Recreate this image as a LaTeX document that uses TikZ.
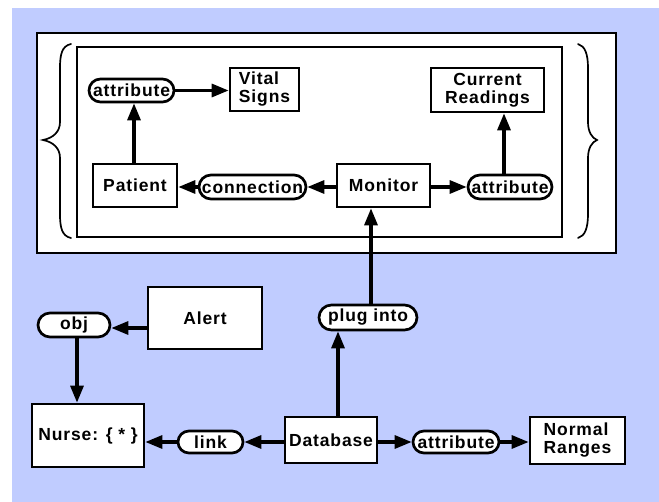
\documentclass[tikz,border=0pt]{standalone}
\usepackage{fontspec}
\setmainfont{Liberation Sans}[BoldFont={* Bold}]
\newfontfamily\lblfont{Liberation Sans Bold}[LetterSpace=5]
\usetikzlibrary{arrows.meta,shapes.misc}
\definecolor{bgblue}{RGB}{192,204,255}
\tikzset{
  lbl/.style={font=\lblfont\fontsize{17.5}{18}\selectfont},
  conceptbox/.style={lbl, draw, fill=white, line width=2.7pt, rectangle, inner sep=1pt, align=center},
  relpill/.style={lbl, draw, fill=white, line width=2.7pt, rounded rectangle, inner sep=0pt},
  container/.style={draw, fill=white, line width=2.7pt, rectangle, inner sep=0pt},
  link arrow/.style={line width=3.2pt, -{Triangle[length=17pt,width=13pt]}},
  bracket/.style={line width=1.7pt, line cap=round}
}
\begin{document}
\begin{tikzpicture}[x=1pt,y=-1pt]
\useasboundingbox (0,0) rectangle (659,502);
\fill[bgblue] (12,8) rectangle (659,502);

% nested context boxes
\node[container, minimum width=579, minimum height=220] (outer) at (326.5,143) {};
\node[container, minimum width=485, minimum height=190] (inner) at (319.5,142) {};

% curly braces around the inner context
\draw[bracket] (71,44) .. controls (62,46) and (60,54) .. (60,68) -- (60,122)
  .. controls (60,132) and (53,138) .. (43,140)
  .. controls (53,142) and (60,148) .. (60,158) -- (60,214)
  .. controls (60,228) and (62,236) .. (71,238);
\draw[bracket] (578,44) .. controls (585,46) and (588,54) .. (588,68) -- (588,122)
  .. controls (588,132) and (592,138) .. (597,140)
  .. controls (592,142) and (588,148) .. (588,158) -- (588,214)
  .. controls (588,228) and (585,236) .. (578,238);

% concepts inside the context
\node[relpill, minimum width=85, minimum height=23] (attrL) at (131.5,90.5) {attribute};
\node[conceptbox, minimum width=69, minimum height=43, align=left] (vital) at (264.5,89.5) {Vital\\Signs};
\node[conceptbox, minimum width=84, minimum height=43] (patient) at (135,185.5) {Patient};
\node[relpill, minimum width=107, minimum height=24] (conn) at (252.5,187) {connection};
\node[conceptbox, minimum width=93, minimum height=43] (monitor) at (383.5,185.5) {Monitor};
\node[relpill, minimum width=84, minimum height=24] (attrR) at (510,187) {attribute};
\node[conceptbox, minimum width=113, minimum height=44] (current) at (487.5,90) {Current\\Readings};

% concepts outside the context
\node[relpill, minimum width=72, minimum height=24] (obj) at (74,325) {obj};
\node[conceptbox, minimum width=114, minimum height=62] (alert) at (205,318) {Alert};
\node[conceptbox, minimum width=112, minimum height=63] (nurse) at (88,435.5) {Nurse: \{ * \}};
\node[relpill, minimum width=65, minimum height=22] (link) at (210.5,442) {link};
\node[conceptbox, minimum width=92, minimum height=46] (database) at (331,440) {Database};
\node[relpill, minimum width=98, minimum height=25] (plug) at (368,317.5) {plug\ into};
\node[relpill, minimum width=86, minimum height=22] (attrB) at (456,442) {attribute};
\node[conceptbox, minimum width=95, minimum height=47, align=left] (normal) at (577.5,440.5) {Normal\\Ranges};

% relations
\draw[link arrow] (attrL.east) -- (vital.west |- attrL.east);
\draw[link arrow] ([xshift=-1pt]patient.north) -- ([xshift=-1pt]patient.north |- attrL.south);
\draw[link arrow] (monitor.west |- conn.east) -- (conn.east);
\draw[link arrow] (conn.west) -- (patient.east |- conn.west);
\draw[link arrow] (monitor.east |- attrR.west) -- (attrR.west);
\draw[link arrow] ([xshift=-6pt]attrR.north) -- ([xshift=-6pt]attrR.north |- current.south);
\draw[link arrow] (alert.west |- 0,328) -- (obj.east |- 0,328);
\draw[link arrow] ([xshift=3pt]obj.south) -- ([xshift=3pt]obj.south |- nurse.north);
\draw[link arrow] (database.west |- link.east) -- (link.east);
\draw[link arrow] (link.west) -- (nurse.east |- link.west);
\draw[link arrow] ([xshift=7pt]database.north) -- ([xshift=7pt]database.north |- plug.south);
\draw[link arrow] ([xshift=3pt]plug.north) -- ([xshift=3pt]plug.north |- monitor.south);
\draw[link arrow] (database.east |- attrB.west) -- (attrB.west);
\draw[link arrow] (attrB.east) -- (normal.west |- attrB.east);
\end{tikzpicture}
\end{document}
